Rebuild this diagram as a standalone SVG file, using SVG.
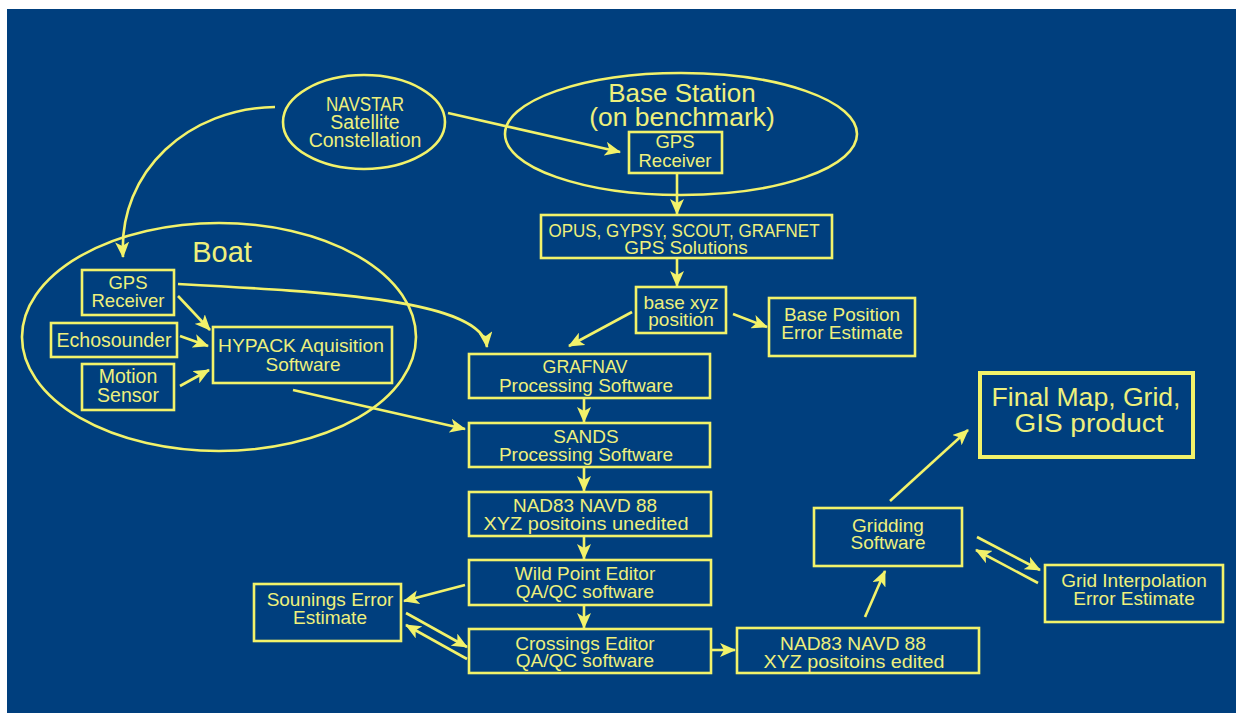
<svg xmlns="http://www.w3.org/2000/svg" width="1236" height="713" viewBox="0 0 1236 713">
<style>
.bg{fill:#003F7E}
.box{fill:none;stroke:#F2F26A;stroke-width:2.6}
.big{stroke-width:4}
.ell{fill:none;stroke:#F2F26A;stroke-width:2.6}
.t{font-family:"Liberation Sans",Arial,sans-serif;font-size:19px;fill:#EEF07C;text-anchor:middle}
.s18{font-size:18.5px}
.s195{font-size:19.5px}
.s26{font-size:26px}
.s27{font-size:26.5px}
.s28{font-size:29px}
.c{fill:none;stroke:#F2F26A;stroke-width:2.6;marker-end:url(#ah)}
</style>
<defs>
<marker id="ah" markerUnits="userSpaceOnUse" markerWidth="16" markerHeight="14" refX="15" refY="7" orient="auto">
<path d="M0,0 L16,7 L0,14 L4,7 z" fill="#F2F26A"/>
</marker>
</defs>
<rect x="0" y="0" width="1236" height="713" fill="#ffffff"/>
<rect class="bg" x="7" y="9" width="1229" height="704"/>

<g id="connectors">
<path class="c" d="M275,107 C190,108 118,170 123,257"/>
<path class="c" d="M448,113 L620,152"/>
<path class="c" d="M677,174 L677,214"/>
<path class="c" d="M677,258 L677,286"/>
<path class="c" d="M632,312 L569,346"/>
<path class="c" d="M733,314 L767,327"/>
<path class="c" d="M178,284 C330,292 482,300 487,347"/>
<path class="c" d="M178,296 L210,330"/>
<path class="c" d="M180,336 L208,346"/>
<path class="c" d="M180,386 L209,370"/>
<path class="c" d="M293,390 L465,429"/>
<path class="c" d="M584,398 L584,422"/>
<path class="c" d="M584,467 L584,491"/>
<path class="c" d="M584,536 L584,559"/>
<path class="c" d="M584,605 L584,628"/>
<path class="c" d="M465,585 L404,601"/>
<path class="c" d="M406,613 L467,647"/>
<path class="c" d="M467,659 L406,625"/>
<path class="c" d="M711,650 L735,650"/>
<path class="c" d="M865,617 L885,571"/>
<path class="c" d="M890,501 L968,430"/>
<path class="c" d="M977,537 L1040,570"/>
<path class="c" d="M1038,583 L976,550"/>
</g>

<g id="navstar">
<ellipse class="ell" cx="364" cy="122" rx="81" ry="47"/>
<text class="t s195" x="365" y="111" textLength="78" lengthAdjust="spacingAndGlyphs">NAVSTAR</text>
<text class="t s195" x="365" y="129">Satellite</text>
<text class="t s195" x="365" y="147">Constellation</text>
</g>

<g id="base-station">
<ellipse class="ell" cx="681" cy="134" rx="176" ry="61"/>
<text class="t s26" x="682" y="102">Base Station</text>
<text class="t s27" x="682" y="126">(on benchmark)</text>
</g>

<g id="base-gps">
<rect class="box" x="629" y="132" width="93" height="41"/>
<text class="t s18" x="675" y="148">GPS</text>
<text class="t s18" x="675" y="167">Receiver</text>
</g>

<g id="opus">
<rect class="box" x="541" y="215" width="291" height="43"/>
<text class="t" x="684" y="237" textLength="271" lengthAdjust="spacingAndGlyphs">OPUS, GYPSY, SCOUT, GRAFNET</text>
<text class="t" x="686" y="254">GPS Solutions</text>
</g>

<g id="base-xyz">
<rect class="box" x="636" y="287" width="90" height="46"/>
<text class="t" x="681" y="309">base xyz</text>
<text class="t" x="681" y="326">position</text>
</g>

<g id="base-position-error">
<rect class="box" x="769" y="298" width="146" height="58"/>
<text class="t" x="842" y="321">Base Position</text>
<text class="t" x="842" y="339">Error Estimate</text>
</g>

<g id="boat">
<ellipse class="ell" cx="219" cy="337" rx="197" ry="114"/>
<text class="t s28" x="222" y="262">Boat</text>
</g>

<g id="boat-gps">
<rect class="box" x="82" y="270" width="92" height="45"/>
<text class="t s18" x="128" y="289">GPS</text>
<text class="t s18" x="128" y="307">Receiver</text>
</g>

<g id="echosounder">
<rect class="box" x="51" y="323" width="126" height="34"/>
<text class="t s195" x="114" y="347">Echosounder</text>
</g>

<g id="motion-sensor">
<rect class="box" x="82" y="364" width="92" height="46"/>
<text class="t s195" x="128" y="383">Motion</text>
<text class="t s195" x="128" y="402">Sensor</text>
</g>

<g id="hypack">
<rect class="box" x="213" y="327" width="179" height="56"/>
<text class="t" x="301" y="352" textLength="166" lengthAdjust="spacingAndGlyphs">HYPACK Aquisition</text>
<text class="t" x="303" y="371">Software</text>
</g>

<g id="grafnav">
<rect class="box" x="469" y="354" width="241" height="44"/>
<text class="t" x="585" y="373" textLength="85" lengthAdjust="spacingAndGlyphs">GRAFNAV</text>
<text class="t" x="586" y="392">Processing Software</text>
</g>

<g id="sands">
<rect class="box" x="469" y="423" width="241" height="44"/>
<text class="t" x="586" y="443">SANDS</text>
<text class="t" x="586" y="461">Processing Software</text>
</g>

<g id="nad83-unedited">
<rect class="box" x="469" y="492" width="242" height="44"/>
<text class="t" x="585" y="512" textLength="144" lengthAdjust="spacingAndGlyphs">NAD83 NAVD 88</text>
<text class="t" x="586" y="530" textLength="205" lengthAdjust="spacingAndGlyphs">XYZ positoins unedited</text>
</g>

<g id="wild-point">
<rect class="box" x="469" y="560" width="242" height="45"/>
<text class="t" x="585" y="580">Wild Point Editor</text>
<text class="t" x="585" y="598">QA/QC software</text>
</g>

<g id="crossings">
<rect class="box" x="469" y="629" width="242" height="44"/>
<text class="t" x="585" y="650">Crossings Editor</text>
<text class="t" x="585" y="667">QA/QC software</text>
</g>

<g id="sounings-error">
<rect class="box" x="254" y="584" width="147" height="57"/>
<text class="t" x="330" y="606">Sounings Error</text>
<text class="t" x="330" y="624">Estimate</text>
</g>

<g id="nad83-edited">
<rect class="box" x="737" y="628" width="242" height="45"/>
<text class="t" x="853" y="650" textLength="146" lengthAdjust="spacingAndGlyphs">NAD83 NAVD 88</text>
<text class="t" x="854" y="668" textLength="181" lengthAdjust="spacingAndGlyphs">XYZ positoins edited</text>
</g>

<g id="gridding">
<rect class="box" x="814" y="508" width="148" height="58"/>
<text class="t" x="888" y="532">Gridding</text>
<text class="t" x="888" y="549">Software</text>
</g>

<g id="grid-interpolation-error">
<rect class="box" x="1045" y="565" width="178" height="57"/>
<text class="t" x="1134" y="587">Grid Interpolation</text>
<text class="t" x="1134" y="605">Error Estimate</text>
</g>

<g id="final-product">
<rect class="box big" x="980" y="373" width="213" height="84"/>
<text class="t s26" x="1086" y="406" textLength="189" lengthAdjust="spacingAndGlyphs">Final Map, Grid,</text>
<text class="t s26" x="1089" y="432" textLength="149" lengthAdjust="spacingAndGlyphs">GIS product</text>
</g>
</svg>
